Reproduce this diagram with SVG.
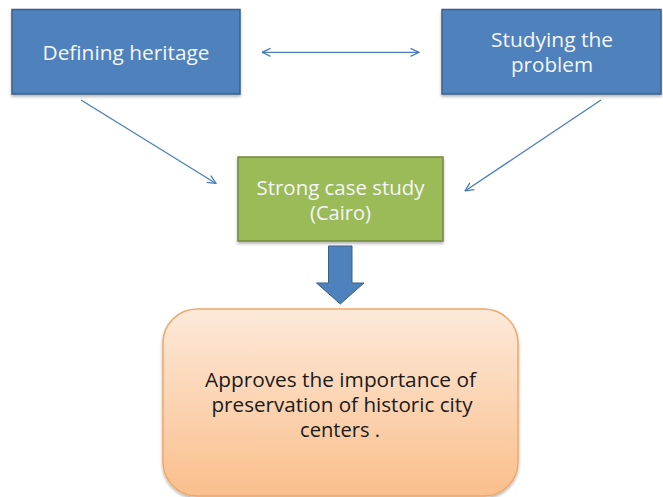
<svg xmlns="http://www.w3.org/2000/svg" width="663" height="497" viewBox="0 0 663 497">
  <style>
    .lbl { font-family: "Open Sans", "Noto Sans", "Liberation Sans", sans-serif; text-anchor: middle; }
    .light { fill: #f4f6fa; font-size: 20px; }
    .dark { fill: #1a1a1a; font-size: 19.5px; }
    .blue { fill: #4f81bd; stroke: #3a5f8b; stroke-width: 1.5; }
    .green { fill: #9bbb59; stroke: #71893f; stroke-width: 1.5; }
    .link { fill: none; stroke: #4a7ebb; stroke-width: 1.3; }
  </style>
  <defs>
    <marker id="open" viewBox="0 0 10 10" refX="9.5" refY="5" markerWidth="10" markerHeight="10" markerUnits="userSpaceOnUse" orient="auto-start-reverse">
      <path d="M1,1 L9.5,5 L1,9" fill="none" stroke="#4a7ebb" stroke-width="1.3"/>
    </marker>
    <linearGradient id="peach" x1="0" y1="0" x2="0" y2="1">
      <stop offset="0" stop-color="#fde9d9"/>
      <stop offset="1" stop-color="#fabf8c"/>
    </linearGradient>
    <filter id="shade" x="-5%" y="-5%" width="110%" height="115%">
      <feDropShadow dx="0" dy="2" stdDeviation="1.5" flood-color="#000" flood-opacity="0.3"/>
    </filter>
  </defs>

  <g id="defining-heritage">
    <rect class="blue" x="12" y="9.5" width="228" height="84.5" filter="url(#shade)"/>
    <text class="lbl light" x="126" y="60" textLength="167" lengthAdjust="spacingAndGlyphs">Defining heritage</text>
  </g>

  <g id="studying-problem">
    <rect class="blue" x="442" y="9.5" width="219" height="84.5" filter="url(#shade)"/>
    <text class="lbl light" x="552" y="46.5" style="font-size:19.5px" textLength="122" lengthAdjust="spacingAndGlyphs">Studying the</text>
    <text class="lbl light" x="552" y="72" style="font-size:19.5px" textLength="82" lengthAdjust="spacingAndGlyphs">problem</text>
  </g>

  <g id="case-study">
    <rect class="green" x="238" y="157" width="205" height="84" filter="url(#shade)"/>
    <text class="lbl light" x="340.5" y="195" textLength="168" lengthAdjust="spacingAndGlyphs">Strong case study</text>
    <text class="lbl light" x="340.5" y="220">(Cairo)</text>
  </g>

  <g id="conclusion">
    <rect x="163" y="309" width="355" height="187" rx="34" ry="34" fill="url(#peach)" stroke="#f0a868" stroke-width="1.5" filter="url(#shade)"/>
    <text class="lbl dark" x="340.5" y="387" textLength="271" lengthAdjust="spacingAndGlyphs">Approves the importance of</text>
    <text class="lbl dark" x="342" y="411.5" textLength="261" lengthAdjust="spacingAndGlyphs">preservation of historic city</text>
    <text class="lbl dark" x="340" y="436.5" textLength="80" lengthAdjust="spacingAndGlyphs">centers .</text>
  </g>

  <g id="connectors">
    <line class="link" x1="262" y1="52.3" x2="419" y2="52.3" marker-start="url(#open)" marker-end="url(#open)"/>
    <line class="link" x1="81" y1="100" x2="216" y2="183.5" marker-end="url(#open)"/>
    <line class="link" x1="601" y1="100" x2="465" y2="191" marker-end="url(#open)"/>
    <path d="M328.5,246 H352 V283 H364 L340.3,304 L316.5,283 H328.5 Z" fill="#4f81bd" stroke="#3a5f8b" stroke-width="1"/>
  </g>
</svg>
